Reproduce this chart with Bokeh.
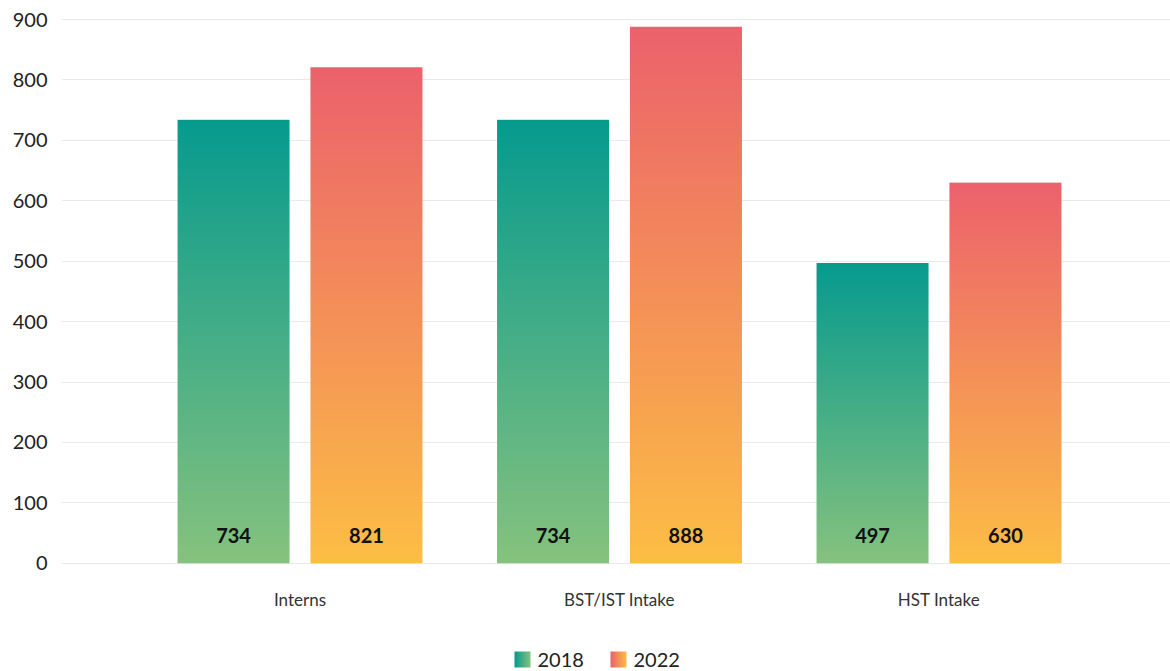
import numpy as np
from bokeh.plotting import figure
from bokeh.layouts import column
from bokeh.models import Range1d, FixedTicker
from bokeh.core.properties import value
from bokeh.embed import file_html
from bokeh.resources import INLINE

categories = ["Interns", "BST/IST Intake", "HST Intake"]
series = ["2018", "2022"]
values_2018 = [734, 734, 497]
values_2022 = [821, 888, 630]
y_ticks = [0, 100, 200, 300, 400, 500, 600, 700, 800, 900]

FONT = "Lato"
# gradient colours: (top, bottom)
grad_2018 = ((6, 154, 142), (134, 194, 126))
grad_2022 = ((236, 97, 108), (252, 190, 68))


def vgrad(top, bottom, n=400):
    t = np.linspace(0, 1, n)[:, None]  # row 0 = bottom
    top = np.array(top)[None, :]
    bot = np.array(bottom)[None, :]
    rgb = (bot * (1 - t) + top * t).round().astype(np.uint8)
    img = np.empty((n, 1), dtype=np.uint32)
    v = img.view(dtype=np.uint8).reshape((n, 1, 4))
    v[:, 0, 0] = rgb[:, 0]
    v[:, 0, 1] = rgb[:, 1]
    v[:, 0, 2] = rgb[:, 2]
    v[:, 0, 3] = 255
    return img


def hgrad(left, right, n=64):
    t = np.linspace(0, 1, n)[None, :]
    l = np.array(left)[:, None]
    r = np.array(right)[:, None]
    rgb = (l * (1 - t) + r * t).round().astype(np.uint8)
    img = np.empty((1, n), dtype=np.uint32)
    v = img.view(dtype=np.uint8).reshape((1, n, 4))
    v[0, :, 0] = rgb[0]
    v[0, :, 1] = rgb[1]
    v[0, :, 2] = rgb[2]
    v[0, :, 3] = 255
    return img


W = 1170
LEFT = 61
p = figure(width=W, height=620, output_backend="svg", toolbar_location=None,
           x_range=Range1d(-0.7465, 2.7246), y_range=Range1d(-2, 905),
           min_border_left=LEFT, min_border_right=0, min_border_top=16,
           min_border_bottom=56)
p.outline_line_color = None
p.background_fill_color = "white"
p.border_fill_color = "white"

xs = list(range(len(categories)))
bw = 0.3505
off = 0.208

for vals, grad, sign in ((values_2018, grad_2018, -1), (values_2022, grad_2022, 1)):
    img = vgrad(*grad)
    for i, v in enumerate(vals):
        cx = xs[i] + sign * off
        p.image_rgba(image=[img], x=cx - bw / 2, y=0, dw=bw, dh=v)
    p.text(x=[x + sign * off for x in xs], y=[46] * len(vals),
           text=[str(v) for v in vals], text_align="center",
           text_baseline="middle", text_font=value(FONT),
           text_font_style="bold", text_font_size="20px", text_color="#111111")

p.xgrid.grid_line_color = None
p.ygrid.grid_line_color = "#e9e9ef"
p.ygrid.grid_line_width = 1
p.ygrid.ticker = FixedTicker(ticks=y_ticks)

p.yaxis.ticker = FixedTicker(ticks=y_ticks)
p.yaxis.axis_line_color = None
p.yaxis.major_tick_line_color = None
p.yaxis.minor_tick_line_color = None
p.yaxis.major_tick_out = 0
p.yaxis.major_tick_in = 0
p.yaxis.major_label_text_font = FONT
p.yaxis.major_label_text_font_size = "20px"
p.yaxis.major_label_text_color = "#222222"
p.yaxis.major_label_standoff = 14

p.xaxis.ticker = FixedTicker(ticks=xs)
p.xaxis.major_label_overrides = {i: c for i, c in enumerate(categories)}
p.xaxis.axis_line_color = None
p.xaxis.major_tick_line_color = None
p.xaxis.minor_tick_line_color = None
p.xaxis.major_label_text_font = FONT
p.xaxis.major_label_text_font_size = "17px"
p.xaxis.major_label_text_color = "#333333"
p.xaxis.major_label_standoff = 18

# legend strip (frame aligned with main frame; data units = page pixels)
LH = 51
lg = figure(width=W, height=LH, output_backend="svg", toolbar_location=None,
            x_range=Range1d(LEFT, W), y_range=Range1d(0, LH),
            x_axis_location=None, y_axis_location=None,
            min_border=0, min_border_left=LEFT, min_border_right=0,
            min_border_top=0, min_border_bottom=0)
lg.outline_line_color = None
lg.grid.visible = False

leg_x = [514, 610]
leg_y = 12
for name, grad, lx in zip(series, (grad_2018, grad_2022), leg_x):
    lg.image_rgba(image=[hgrad(grad[0], grad[1])], x=lx, y=leg_y - 8, dw=16, dh=16)
    lg.text(x=[lx + 23], y=[leg_y], text=[name], text_align="left",
            text_baseline="middle", text_font=value(FONT),
            text_font_size="20px", text_color="#222222")

layout = column(p, lg, spacing=0)
open("out.html", "w").write(file_html(layout, INLINE))
